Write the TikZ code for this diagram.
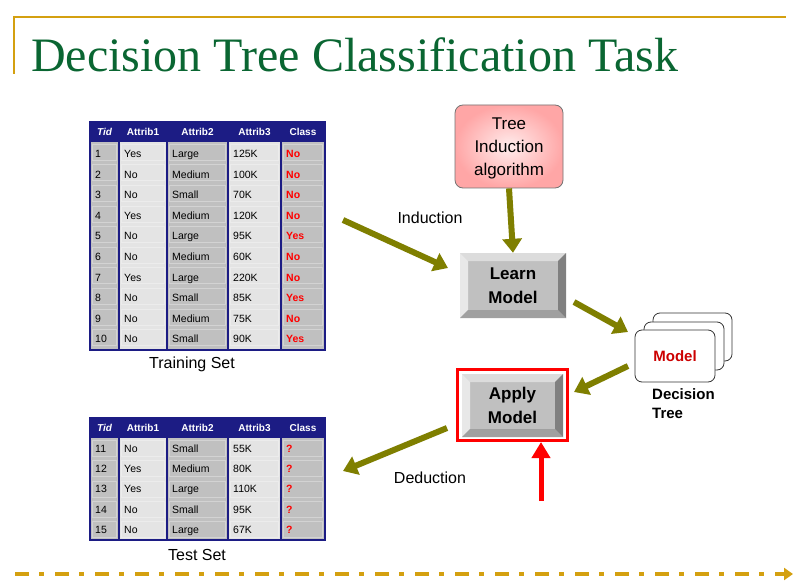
\documentclass[tikz,border=0pt]{standalone}
\usepackage{fontspec}
\setmainfont{Liberation Sans}
\newfontfamily\titlefont{Liberation Serif}
\usetikzlibrary{arrows.meta,shadings}
\definecolor{gold}{HTML}{D4A010}
\definecolor{titlegreen}{HTML}{0A6632}
\definecolor{navy}{HTML}{1C1C84}
\definecolor{olivearr}{HTML}{7F7F00}
\definecolor{celldark}{HTML}{C0C0C0}
\definecolor{celllight}{HTML}{E4E4E4}
\definecolor{face}{HTML}{C0C0C0}
\definecolor{bevtop}{HTML}{DCDCDC}
\definecolor{bevleft}{HTML}{E8E8E8}
\definecolor{bevbot}{HTML}{A0A0A0}
\definecolor{bevright}{HTML}{808080}
\definecolor{pinkout}{HTML}{FFA6A6}
\definecolor{pinkin}{HTML}{FFEDED}
\definecolor{modelred}{HTML}{CC0000}
\tikzset{
  hdr/.style={font=\bfseries\fontsize{10}{11}\selectfont, text=white, inner sep=0pt},
  celltxt/.style={font=\fontsize{10.5}{12}\selectfont, anchor=base west, inner sep=0pt},
  clstxt/.style={font=\bfseries\fontsize{10.5}{12}\selectfont, text=red, anchor=base west, inner sep=0pt},
  lbl/.style={font=\fontsize{16}{19}\selectfont, inner sep=0pt},
  arr/.style={draw=olivearr, line width=6pt, -{Triangle[width=19pt,length=14pt,fill=olivearr]}},
  redarr/.style={draw=red, line width=5pt, -{Triangle[width=18pt,length=16pt,fill=red]}},
  card/.style={draw=black!80, fill=white, rounded corners=7pt, line width=0.8pt},
  bevelbox/.style={minimum width=106pt, minimum height=65pt, inner sep=0pt, fill=face,
    font=\bfseries\fontsize{17}{24}\selectfont, align=center,
    path picture={
      \fill[bevtop] (path picture bounding box.north west) -- (path picture bounding box.north east)
        -- ([xshift=-8pt,yshift=-8pt]path picture bounding box.north east) -- ([xshift=8pt,yshift=-8pt]path picture bounding box.north west) -- cycle;
      \fill[bevleft] (path picture bounding box.north west) -- (path picture bounding box.south west)
        -- ([xshift=8pt,yshift=8pt]path picture bounding box.south west) -- ([xshift=8pt,yshift=-8pt]path picture bounding box.north west) -- cycle;
      \fill[bevbot] (path picture bounding box.south west) -- (path picture bounding box.south east)
        -- ([xshift=-8pt,yshift=8pt]path picture bounding box.south east) -- ([xshift=8pt,yshift=8pt]path picture bounding box.south west) -- cycle;
      \fill[bevright] (path picture bounding box.north east) -- (path picture bounding box.south east)
        -- ([xshift=-8pt,yshift=8pt]path picture bounding box.south east) -- ([xshift=-8pt,yshift=-8pt]path picture bounding box.north east) -- cycle;
    }},
}
\begin{document}
\begin{tikzpicture}[x=1pt,y=-1pt]
\useasboundingbox (0,0) rectangle (797,588);
\fill[white] (0,0) rectangle (797,588);
% header decoration
\draw[gold, line width=2.5pt] (14,74) -- (14,17) -- (786,17);
\node[anchor=base west, inner sep=0pt, text=titlegreen, font=\titlefont\fontsize{48}{50}\selectfont] (title) at (31,72) {Decision Tree Classification Task};
\draw[gold, line width=4pt, dash pattern=on 14pt off 10pt on 5pt off 11pt, -{Triangle[width=12pt,length=9pt]}] (15,574) -- (793,574);

% ---------- training table ----------
\foreach \xa/\xb/\c in {90/119/celldark,119/167/celllight,167/228/celldark,228/281/celllight,281/325/celldark}{
  \fill[\c] (\xa,142) rectangle (\xb,350);
  \foreach \r in {0,...,9}{
    \draw[white, opacity=0.3, line width=0.6pt] (\xa+2,142+\r*20.6+2) rectangle (\xb-3,142+\r*20.6+18);
  }
}
\fill[navy] (90,122) rectangle (325,142);
\foreach \xx in {119,167,228,281}{\draw[navy, line width=1.2pt] (\xx,122) -- (\xx,350);}
\draw[navy, line width=1.4pt] (90,122) rectangle (325,350);
\node[hdr, font=\bfseries\itshape\fontsize{10}{11}\selectfont] (trh1) at (104.5,132) {Tid};
\node[hdr] (trh2) at (143,132) {Attrib1};
\node[hdr] (trh3) at (197.5,132) {Attrib2};
\node[hdr] (trh4) at (254.5,132) {Attrib3};
\node[hdr] (trh5) at (303,132) {Class};
\foreach \t/\a/\b/\c/\d [count=\i from 0] in {1/Yes/Large/125K/No,2/No/Medium/100K/No,3/No/Small/70K/No,4/Yes/Medium/120K/No,5/No/Large/95K/Yes,6/No/Medium/60K/No,7/Yes/Large/220K/No,8/No/Small/85K/Yes,9/No/Medium/75K/No,10/No/Small/90K/Yes}{
  \pgfmathsetmacro{\yy}{157.5+\i*20.6}
  \node[celltxt] (tr\i a) at (95,\yy) {\t};
  \node[celltxt] (tr\i b) at (124,\yy) {\a};
  \node[celltxt] (tr\i c) at (172,\yy) {\b};
  \node[celltxt] (tr\i d) at (233,\yy) {\c};
  \node[clstxt] (tr\i e) at (286,\yy) {\d};
}
\node[lbl] (trainlbl) at (192,364) {Training Set};

% ---------- test table ----------
\foreach \xa/\xb/\c in {90/119/celldark,119/167/celllight,167/228/celldark,228/281/celllight,281/325/celldark}{
  \fill[\c] (\xa,438) rectangle (\xb,540);
  \foreach \r in {0,...,4}{
    \draw[white, opacity=0.3, line width=0.6pt] (\xa+2,438+\r*20.4+2) rectangle (\xb-3,438+\r*20.4+18);
  }
}
\fill[navy] (90,418) rectangle (325,438);
\foreach \xx in {119,167,228,281}{\draw[navy, line width=1.2pt] (\xx,418) -- (\xx,540);}
\draw[navy, line width=1.4pt] (90,418) rectangle (325,540);
\node[hdr, font=\bfseries\itshape\fontsize{10}{11}\selectfont] (teh1) at (104.5,428) {Tid};
\node[hdr] (teh2) at (143,428) {Attrib1};
\node[hdr] (teh3) at (197.5,428) {Attrib2};
\node[hdr] (teh4) at (254.5,428) {Attrib3};
\node[hdr] (teh5) at (303,428) {Class};
\foreach \t/\a/\b/\c [count=\i from 0] in {11/No/Small/55K,12/Yes/Medium/80K,13/Yes/Large/110K,14/No/Small/95K,15/No/Large/67K}{
  \pgfmathsetmacro{\yy}{452+\i*20.4}
  \node[celltxt] (te\i a) at (95,\yy) {\t};
  \node[celltxt] (te\i b) at (124,\yy) {\a};
  \node[celltxt] (te\i c) at (172,\yy) {\b};
  \node[celltxt] (te\i d) at (233,\yy) {\c};
  \node[clstxt] (te\i e) at (286,\yy) {?};
}
\node[lbl] (testlbl) at (197,555) {Test Set};

% ---------- tree induction algorithm ----------
\node[draw=black!55, line width=0.8pt, rounded corners=8pt, inner sep=0pt,
      minimum width=108pt, minimum height=83pt, inner color=pinkin, outer color=pinkout] (algo) at (509,146.5) {};
\node[font=\fontsize{17}{23}\selectfont, align=center, inner sep=0pt] (algotext) at (509,148.5) {Tree\\Induction\\algorithm};

% ---------- learn / apply model ----------
\node[bevelbox] (learn) at (513,285.5) {Learn\\Model};
\node[draw=red, line width=3pt, minimum width=110pt, minimum height=71pt, inner sep=0pt] (applyframe) at (512.5,405) {};
\node[bevelbox, minimum width=101pt, minimum height=63pt] (apply) at (512.5,405.5) {Apply\\Model};

% ---------- model cards ----------
\draw[card] (653,313) rectangle (732,361);
\draw[card] (644,322) rectangle (724,370);
\node[card, minimum width=80pt, minimum height=52pt, inner sep=0pt,
      text=modelred, font=\bfseries\fontsize{15}{18}\selectfont] (model) at (675,356) {Model};
\node[anchor=north west, inner sep=0pt, align=left, font=\bfseries\fontsize{15}{19}\selectfont] (dtree) at (652,388) {Decision\\Tree};

% ---------- arrows ----------
\coordinate (indS) at (343,220);
\coordinate (indE) at (448,268);
\coordinate (lmS) at (574,302);
\coordinate (lmE) at (628,332);
\coordinate (maS) at (628,366);
\coordinate (maE) at (574,392);
\coordinate (dedS) at (447,428);
\coordinate (dedE) at (343,471);
\coordinate (redS) at (541,501);
\draw[arr] (indS) -- (indE);
\draw[arr] (algo.south) -- (learn.north);
\draw[arr] (lmS) -- (lmE);
\draw[arr] (maS) -- (maE);
\draw[arr] (dedS) -- (dedE);
\draw[redarr] (redS) -- (applyframe.south -| redS);
\node[lbl] (indlbl) at (430,218) {Induction};
\node[lbl] (dedlbl) at (430,478) {Deduction};
\end{tikzpicture}
\end{document}
